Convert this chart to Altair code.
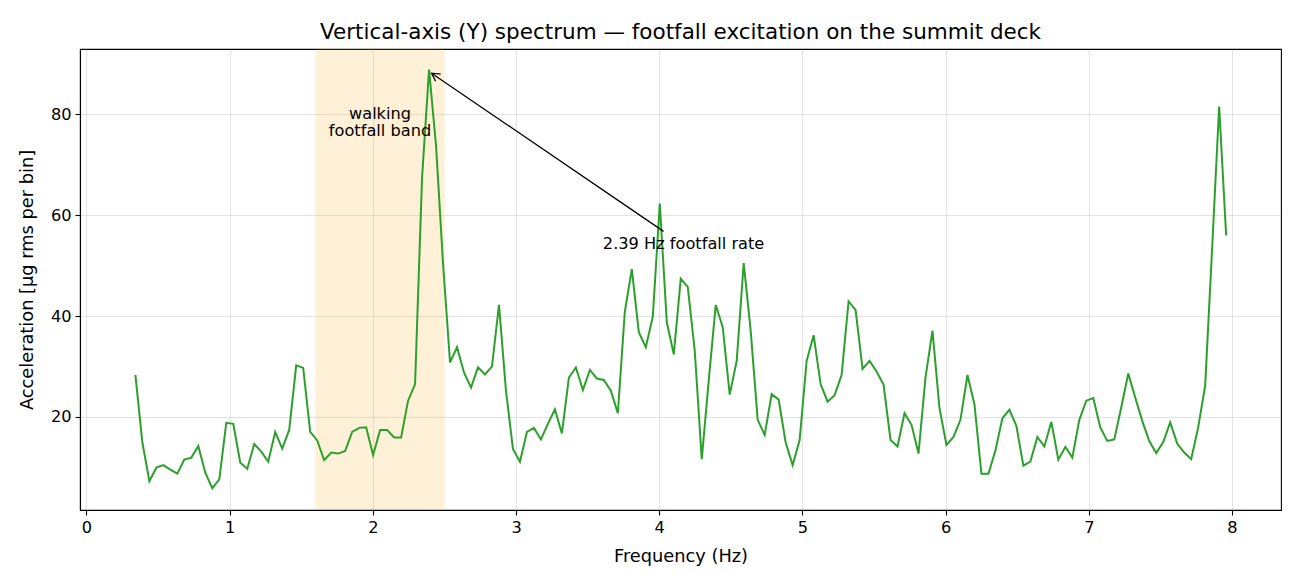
import math

import altair as alt
import pandas as pd

# FFT bin spacing of the vertical-axis accelerometer record (100 Hz sample rate, 2048-point FFT)
BIN_HZ = 100 / 2048
FIRST_BIN = 7

# Acceleration per bin [µg rms], bins 7 .. 163
accel = [
    28.3, 14.9, 7.2, 9.9, 10.4, 9.5, 8.7, 11.5, 11.9, 14.2,
    8.9, 5.8, 7.6, 18.8, 18.6, 10.9, 9.7, 14.6, 13.1, 11.1,
    17.0, 13.7, 17.4, 30.2, 29.7, 17.0, 15.3, 11.4, 12.9, 12.7,
    13.2, 17.0, 17.8, 17.9, 12.4, 17.4, 17.4, 15.9, 15.9, 23.2,
    26.5, 67.5, 88.9, 73.8, 50.4, 30.8, 33.8, 28.8, 25.8, 29.8,
    28.4, 30.0, 42.2, 25.2, 13.6, 11.1, 17.0, 17.8, 15.5, 18.6,
    21.5, 16.7, 27.8, 29.8, 25.3, 29.3, 27.6, 27.3, 25.2, 20.7,
    40.9, 49.3, 36.8, 33.8, 39.9, 62.3, 38.8, 32.4, 47.4, 45.8,
    33.1, 11.6, 27.2, 42.2, 37.8, 24.4, 31.1, 50.5, 37.1, 19.4,
    16.4, 24.5, 23.4, 14.9, 10.4, 15.4, 31.1, 36.2, 26.5, 23.0,
    24.3, 28.3, 42.9, 41.2, 29.5, 31.1, 29.0, 26.4, 15.4, 14.1,
    20.7, 18.4, 12.7, 27.8, 37.1, 21.7, 14.4, 16.0, 19.4, 28.3,
    22.5, 8.7, 8.7, 13.3, 19.7, 21.4, 18.2, 10.3, 11.1, 16.0,
    14.1, 19.0, 11.5, 14.0, 11.9, 19.4, 23.2, 23.7, 17.9, 15.2,
    15.5, 21.9, 28.6, 23.8, 19.2, 15.2, 12.8, 15.0, 18.9, 14.7,
    12.9, 11.6, 17.9, 26.2, 53.6, 81.6, 56.0,
]
freq = [(FIRST_BIN + i) * BIN_HZ for i in range(len(accel))]

# Walking footfall band [Hz]
band_lo, band_hi = 1.6, 2.5
band_label = "walking\nfootfall band"
band_label_pos = (2.05, 80.1)

# Annotation pointing at the footfall peak
note_text = "2.39 Hz footfall rate"
note_text_pos = (4.17, 54.2)
arrow_tail = (4.03, 56.8)
arrow_head = (2.41, 88.2)

# Axis ranges and plot-area size
X_DOMAIN = [-0.045, 8.342]
Y_DOMAIN = [1.5, 93.0]
W, H = 1201, 461

FONT = "DejaVu Sans"
TEXT_SIZE = 16.2
x_ticks = [0, 1, 2, 3, 4, 5, 6, 7, 8]
y_ticks = [20, 40, 60, 80]

spec_df = pd.DataFrame({"freq": freq, "accel": accel})

x_scale = alt.Scale(domain=X_DOMAIN, nice=False, zero=False)
y_scale = alt.Scale(domain=Y_DOMAIN, nice=False, zero=False)

x_enc = alt.X(
    "freq:Q",
    scale=x_scale,
    axis=alt.Axis(title="Frequency (Hz)", values=x_ticks, format="d"),
)
y_enc = alt.Y(
    "accel:Q",
    scale=y_scale,
    axis=alt.Axis(title="Acceleration [µg rms per bin]", values=y_ticks, format="d"),
)

band = (
    alt.Chart(pd.DataFrame({"lo": [band_lo], "hi": [band_hi]}))
    .mark_rect(color="orange", opacity=0.15, stroke="orange", strokeOpacity=0.35, strokeWidth=1)
    .encode(
        x=alt.X("lo:Q", scale=x_scale),
        x2="hi:Q",
        y=alt.value(0),
        y2=alt.value(H),
    )
)

line = (
    alt.Chart(spec_df)
    .mark_line(color="#2ca02c", strokeWidth=2)
    .encode(x=x_enc, y=y_enc)
)

band_text = (
    alt.Chart(pd.DataFrame({"x": [band_label_pos[0]], "y": [band_label_pos[1]], "t": [band_label]}))
    .mark_text(font=FONT, fontSize=TEXT_SIZE, color="black", align="center", baseline="middle",
               lineBreak="\n", lineHeight=17)
    .encode(x=alt.X("x:Q", scale=x_scale), y=alt.Y("y:Q", scale=y_scale), text="t:N")
)

arrow_df = pd.DataFrame({
    "x": [arrow_tail[0]], "y": [arrow_tail[1]],
    "x2": [arrow_head[0]], "y2": [arrow_head[1]],
})
arrow_line = (
    alt.Chart(arrow_df)
    .mark_rule(color="black", strokeWidth=1.3)
    .encode(
        x=alt.X("x:Q", scale=x_scale), y=alt.Y("y:Q", scale=y_scale),
        x2="x2:Q", y2="y2:Q",
    )
)

# Rotation of the open arrowhead, from the on-screen direction of the arrow
sx = W / (X_DOMAIN[1] - X_DOMAIN[0])
sy = H / (Y_DOMAIN[1] - Y_DOMAIN[0])
dx = (arrow_head[0] - arrow_tail[0]) * sx
dy = -(arrow_head[1] - arrow_tail[1]) * sy
head_angle = math.degrees(math.atan2(dx, -dy)) % 360

arrow_tip = (
    alt.Chart(pd.DataFrame({"x": [arrow_head[0]], "y": [arrow_head[1]]}))
    .mark_point(
        shape="M -0.55 1 L 0 0 L 0.55 1",
        filled=False,
        stroke="black",
        strokeWidth=1.3,
        size=256,
        angle=head_angle,
        opacity=1,
    )
    .encode(x=alt.X("x:Q", scale=x_scale), y=alt.Y("y:Q", scale=y_scale))
)

note = (
    alt.Chart(pd.DataFrame({"x": [note_text_pos[0]], "y": [note_text_pos[1]], "t": [note_text]}))
    .mark_text(font=FONT, fontSize=TEXT_SIZE, color="black", align="center", baseline="middle")
    .encode(x=alt.X("x:Q", scale=x_scale), y=alt.Y("y:Q", scale=y_scale), text="t:N")
)

chart = (
    alt.layer(band, line, band_text, arrow_line, arrow_tip, note)
    .properties(
        width=W,
        height=H,
        autosize=alt.AutoSizeParams(type="none"),
        padding={"left": 80, "top": 49, "right": 19, "bottom": 75},
        title=alt.TitleParams(
            "Vertical-axis (Y) spectrum — footfall excitation on the summit deck",
            font=FONT, fontSize=21.5, fontWeight="normal", color="black",
            anchor="middle", offset=5,
        ),
    )
    .configure_view(stroke="black", strokeWidth=1.1)
    .configure_axis(
        labelFont=FONT, labelFontSize=TEXT_SIZE, labelColor="black",
        titleFont=FONT, titleFontSize=17.8, titleColor="black", titleFontWeight="normal",
        domainColor="black", domainWidth=1.1,
        tickColor="black", tickSize=5, tickWidth=1.1,
        grid=True, gridColor="#b0b0b0", gridOpacity=0.35, gridWidth=1,
        labelPadding=4,
    )
    .configure_axisX(titlePadding=12)
    .configure_axisY(titlePadding=14)
)

chart.save("out.html", embed_options={"renderer": "svg", "actions": False})
